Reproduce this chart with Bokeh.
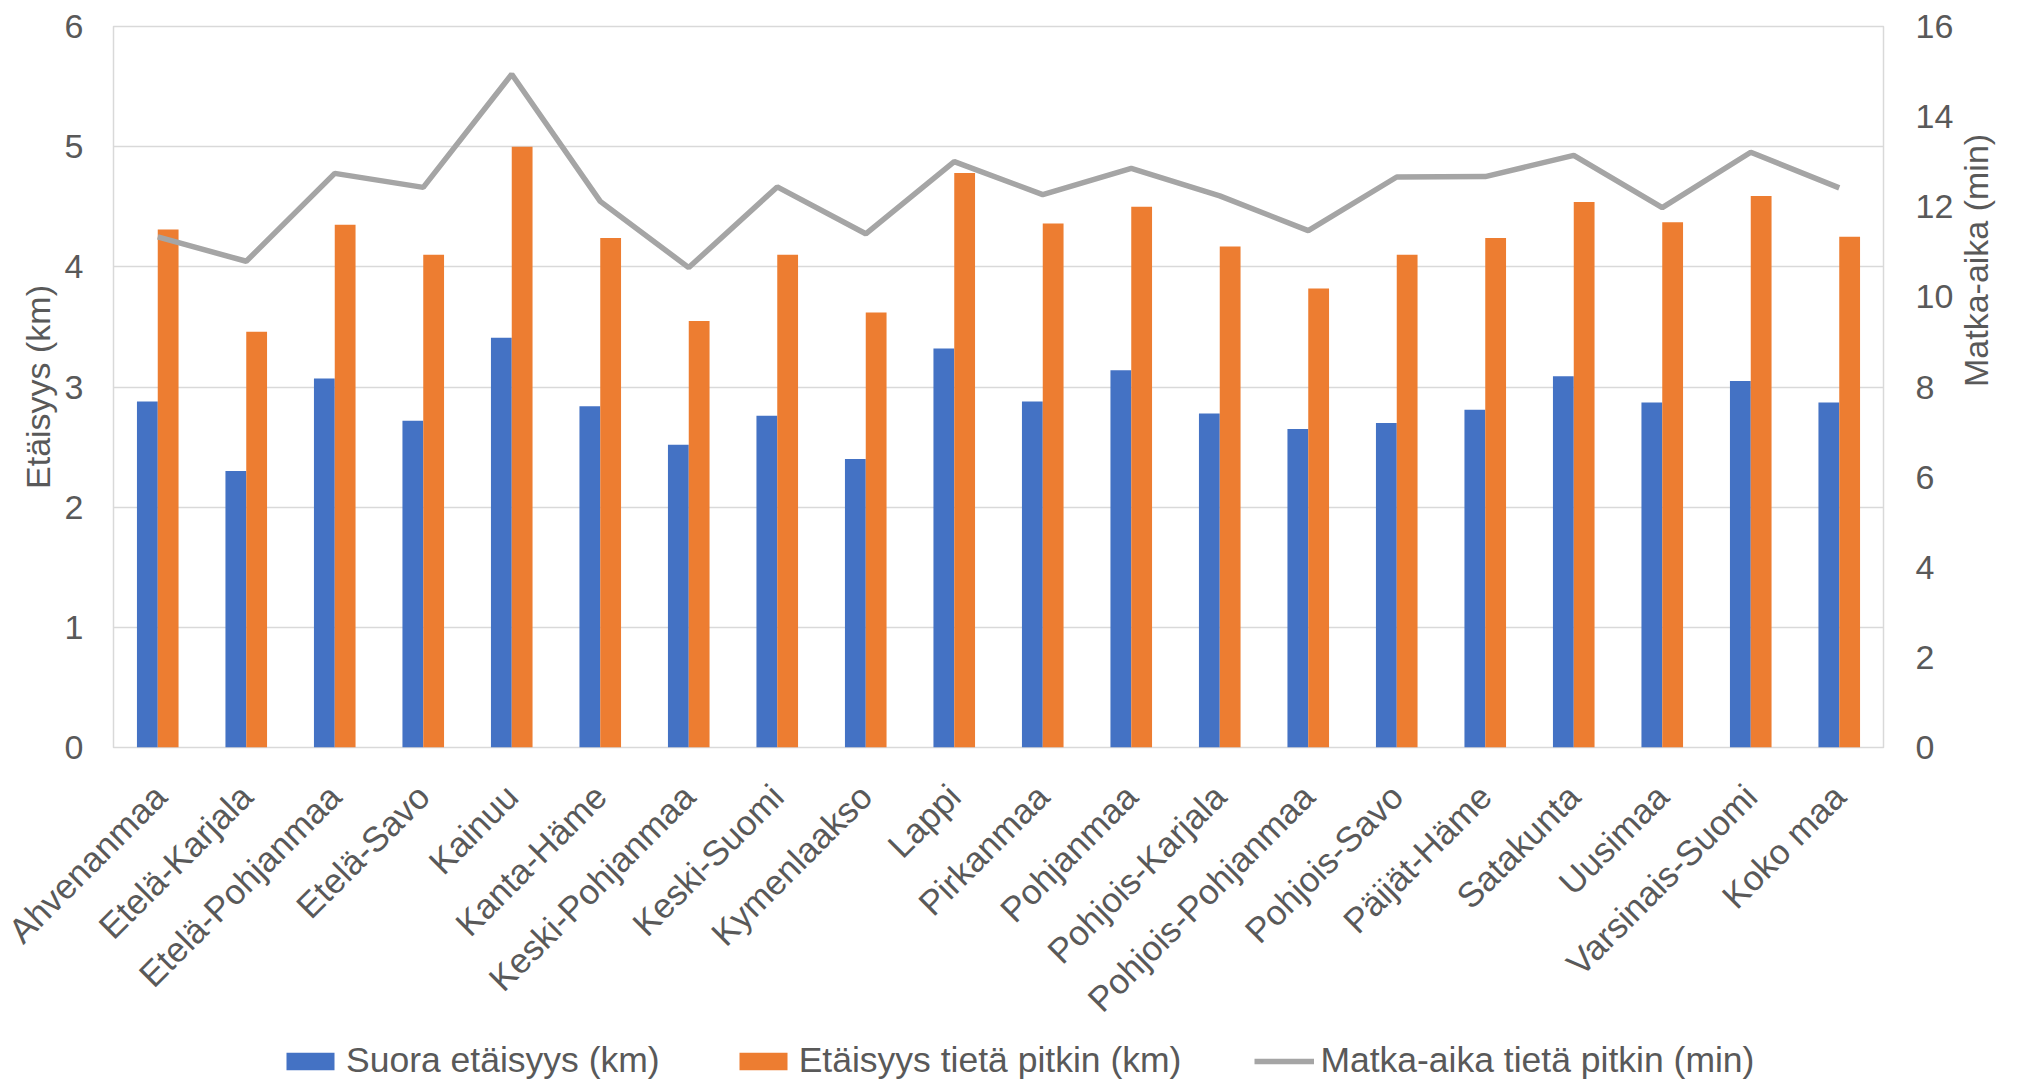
import math
from bokeh.plotting import figure
from bokeh.layouts import column
from bokeh.models import (ColumnDataSource, Range1d, LinearAxis, FactorRange,
                          Legend, LegendItem, FixedTicker)
from bokeh.transform import dodge
from bokeh.embed import file_html
from bokeh.resources import INLINE

categories = ["Ahvenanmaa", "Etelä-Karjala", "Etelä-Pohjanmaa", "Etelä-Savo", "Kainuu",
              "Kanta-Häme", "Keski-Pohjanmaa", "Keski-Suomi", "Kymenlaakso", "Lappi",
              "Pirkanmaa", "Pohjanmaa", "Pohjois-Karjala", "Pohjois-Pohjanmaa",
              "Pohjois-Savo", "Päijät-Häme", "Satakunta", "Uusimaa", "Varsinais-Suomi",
              "Koko maa"]
suora_km = [2.88, 2.30, 3.07, 2.72, 3.41, 2.84, 2.52, 2.76, 2.40, 3.32,
            2.88, 3.14, 2.78, 2.65, 2.70, 2.81, 3.09, 2.87, 3.05, 2.87]
tieta_km = [4.31, 3.46, 4.35, 4.10, 5.00, 4.24, 3.55, 4.10, 3.62, 4.78,
            4.36, 4.50, 4.17, 3.82, 4.10, 4.24, 4.54, 4.37, 4.59, 4.25]
aika_min = [11.33, 10.79, 12.74, 12.43, 14.94, 12.12, 10.65, 12.44, 11.40, 13.00,
            12.27, 12.85, 12.24, 11.47, 12.66, 12.67, 13.14, 11.98, 13.21, 12.42]
left_ticks = [0, 1, 2, 3, 4, 5, 6]
right_ticks = [0, 2, 4, 6, 8, 10, 12, 14, 16]
series_names = ["Suora etäisyys (km)", "Etäisyys tietä pitkin (km)",
                "Matka-aika tietä pitkin (min)"]

FONT = "Liberation Sans"
TXT = "#595959"
FS = "34px"
BLUE, ORANGE, GRAY = "#4472C4", "#ED7D31", "#A5A5A5"

src = ColumnDataSource(dict(cat=categories, suora=suora_km, tieta=tieta_km, aika=aika_min))

p = figure(x_range=FactorRange(*categories), y_range=Range1d(0, 6),
           width=2020, height=1035, output_backend="svg", toolbar_location=None,
           min_border_left=113, min_border_right=137, min_border_top=26,
           min_border_bottom=287)
p.background_fill_color = "white"
p.border_fill_color = "white"
p.outline_line_color = "#D9D9D9"
p.outline_line_width = 1.5

p.extra_y_ranges = {"right": Range1d(0, 16)}

bw = 0.235
p.vbar(x=dodge("cat", -bw / 2, range=p.x_range), top="suora", width=bw,
       source=src, color=BLUE, line_color=None)
p.vbar(x=dodge("cat", bw / 2, range=p.x_range), top="tieta", width=bw,
       source=src, color=ORANGE, line_color=None)
p.line(x="cat", y="aika", source=src, y_range_name="right",
       line_color=GRAY, line_width=5.5)

# grid
p.xgrid.grid_line_color = None
p.ygrid.ticker = FixedTicker(ticks=left_ticks)
p.ygrid.grid_line_color = "#D9D9D9"
p.ygrid.grid_line_width = 1.5

def style_axis(ax):
    ax.axis_line_color = None
    ax.major_tick_line_color = None
    ax.minor_tick_line_color = None
    ax.major_label_text_font = FONT
    ax.major_label_text_font_size = FS
    ax.major_label_text_color = TXT
    ax.axis_label_text_font = FONT
    ax.axis_label_text_font_size = FS
    ax.axis_label_text_color = TXT
    ax.axis_label_text_font_style = "normal"

# left axis
p.yaxis.ticker = FixedTicker(ticks=left_ticks)
p.yaxis.axis_label = "Etäisyys (km)"
style_axis(p.yaxis[0])
p.yaxis.major_label_standoff = 24
p.yaxis.axis_label_standoff = 5

# bottom axis
style_axis(p.xaxis[0])
p.xaxis.major_label_text_font_size = "35px"
p.xaxis.major_label_orientation = math.pi / 4
p.xaxis.major_label_standoff = 37

# right axis
ax_r = LinearAxis(y_range_name="right", axis_label="Matka-aika (min)",
                  ticker=FixedTicker(ticks=right_ticks))
style_axis(ax_r)
ax_r.major_label_standoff = 26
ax_r.axis_label_standoff = 20
try:
    ax_r.axis_label_orientation = math.pi / 2
except Exception:
    pass
p.add_layout(ax_r, "right")

# legend strip (separate figure below the chart); its glyphs lie outside its view
p2 = figure(width=2020, height=48, x_range=p.x_range, y_range=Range1d(100, 101),
            output_backend="svg", toolbar_location=None, min_border=0,
            x_axis_location=None, y_axis_location=None)
p2.outline_line_color = None
p2.grid.visible = False
p2.background_fill_color = "white"
p2.border_fill_color = "white"
g1 = p2.vbar(x=dodge("cat", -bw / 2, range=p.x_range), top="suora", width=bw,
             source=src, color=BLUE, line_color=None)
g2 = p2.vbar(x=dodge("cat", bw / 2, range=p.x_range), top="tieta", width=bw,
             source=src, color=ORANGE, line_color=None)
g3 = p2.line(x="cat", y="aika", source=src, line_color=GRAY, line_width=5.5)

legend = Legend(items=[LegendItem(label=series_names[0], renderers=[g1]),
                       LegendItem(label=series_names[1], renderers=[g2]),
                       LegendItem(label=series_names[2], renderers=[g3])],
                orientation="horizontal", location=(167, 2))
legend.label_text_font = FONT
legend.label_text_font_size = "35.5px"
legend.label_text_color = TXT
legend.glyph_width = 60
legend.glyph_height = 22
legend.label_standoff = 6
legend.spacing = 73
legend.padding = 0
legend.margin = 0
legend.border_line_color = None
legend.background_fill_alpha = 0
p2.add_layout(legend, "center")

layout = column(p, p2, spacing=0)
open("out.html", "w").write(file_html(layout, INLINE))
